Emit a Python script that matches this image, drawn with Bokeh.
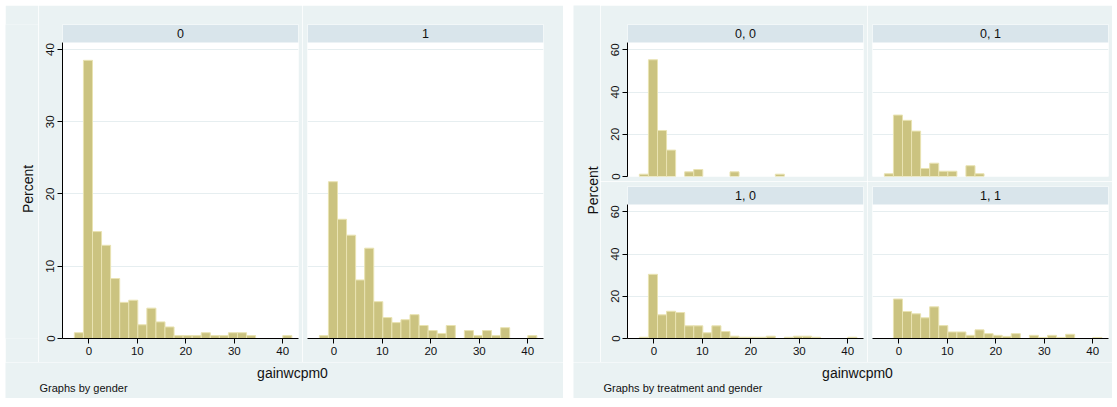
import math

from bokeh.embed import file_html
from bokeh.layouts import column, row
from bokeh.models import (BoxAnnotation, ColumnDataSource, FixedTicker, Label,
                          Range1d, Spacer)
from bokeh.plotting import figure
from bokeh.resources import INLINE

# Histogram bins shared by every panel (Stata-style common bins)
bin_start = -3.0
bin_width = 1.87

# Percent of observations in each bin
pct_gender_0 = [0.8, 38.5, 14.8, 12.9, 8.3, 5.0, 5.3, 1.9, 4.2, 2.3, 1.6, 0.4,
                0.4, 0.4, 0.8, 0.4, 0.4, 0.8, 0.8, 0.4, 0.0, 0.0, 0.0, 0.4]
pct_gender_1 = [0.4, 21.7, 16.5, 14.3, 8.1, 12.5, 5.1, 2.9, 2.2, 2.6, 3.3, 1.8,
                1.1, 0.7, 1.8, 0.0, 1.1, 0.4, 1.1, 0.4, 1.5, 0.0, 0.0, 0.4]
pct_t0_g0 = [1.1, 55.3, 21.8, 12.5, 0.0, 2.2, 3.3, 0.0, 0.0, 0.0, 2.2, 0.0,
             0.0, 0.0, 0.0, 1.1, 0.0, 0.0, 0.0, 0.0, 0.0, 0.0, 0.0, 0.0]
pct_t0_g1 = [1.3, 29.1, 26.6, 21.5, 3.8, 6.3, 2.5, 2.5, 0.0, 5.1, 1.3, 0.0,
             0.0, 0.0, 0.0, 0.0, 0.0, 0.0, 0.0, 0.0, 0.0, 0.0, 0.0, 0.0]
pct_t1_g0 = [0.6, 30.4, 11.2, 12.9, 12.3, 6.0, 6.0, 2.7, 6.0, 3.3, 1.1, 0.6,
             0.6, 0.6, 1.1, 0.0, 0.6, 1.1, 1.1, 0.6, 0.0, 0.0, 0.0, 0.6]
pct_t1_g1 = [0.0, 18.7, 12.8, 11.7, 9.8, 15.0, 6.1, 3.1, 3.1, 1.5, 4.1, 2.3,
             1.5, 1.0, 2.3, 0.0, 1.5, 0.5, 1.5, 0.5, 2.0, 0.0, 0.0, 0.5]

x_ticks = [0, 10, 20, 30, 40]
y_ticks_gender = [0, 10, 20, 30, 40]
y_ticks_treat = [0, 20, 40, 60]

x_title = "gainwcpm0"
y_title = "Percent"

# Styling
BG = "#EAF2F3"
STRIP = "#D9E5EB"
GRID = "#E6EEF0"
BAR = "#CBC380"
BAR_EDGE = "#E9E3B2"
FONT = "Liberation Sans"
X_MIN, X_MAX = -5.45, 43.25


def panel(title, pct, w, h, bl, br, bt, bb, plot_top, frame_top, yticks,
          show_y, show_x):
    p = figure(width=w, height=h, output_backend="svg", toolbar_location=None,
               x_range=Range1d(X_MIN, X_MAX), y_range=Range1d(0, frame_top),
               min_border_left=bl, min_border_right=br,
               min_border_top=bt, min_border_bottom=bb,
               background_fill_color="white", border_fill_color=BG,
               outline_line_color=None)
    left, right, top = [], [], []
    for i, v in enumerate(pct):
        if v > 0:
            lo = bin_start + i * bin_width
            left.append(lo)
            right.append(lo + bin_width)
            top.append(v)
    src = ColumnDataSource(dict(left=left, right=right, top=top,
                                bottom=[0] * len(top)))
    p.quad(left="left", right="right", top="top", bottom="bottom", source=src,
           fill_color=BAR, line_color=BAR_EDGE, line_width=1)

    # title strip above the plot region
    p.add_layout(BoxAnnotation(bottom=plot_top, fill_color=STRIP, fill_alpha=1,
                               line_color=None))
    p.add_layout(Label(x=(X_MIN + X_MAX) / 2, y=(plot_top + frame_top) / 2,
                       text=title, text_align="center", text_baseline="middle",
                       text_font=FONT, text_font_size="12.5px",
                       text_color="#111111"))

    p.xgrid.visible = False
    p.ygrid.ticker = FixedTicker(ticks=yticks)
    p.ygrid.grid_line_color = GRID
    p.ygrid.grid_line_width = 1

    for ax in p.yaxis:
        ax.ticker = FixedTicker(ticks=yticks)
        ax.bounds = (0, plot_top)
        ax.major_label_orientation = "vertical"
        ax.major_tick_out = 5
        ax.major_tick_in = 0
        ax.minor_tick_line_color = None
        ax.axis_line_color = "#000000"
        ax.major_tick_line_color = "#000000"
        ax.major_label_standoff = 3
        ax.major_label_text_font = FONT
        ax.major_label_text_font_size = "11.5px"
        ax.major_label_text_color = "#111111"
        ax.visible = show_y
    for ax in p.xaxis:
        ax.ticker = FixedTicker(ticks=x_ticks)
        ax.major_tick_out = 5
        ax.major_tick_in = 0
        ax.minor_tick_line_color = None
        ax.axis_line_color = "#000000"
        ax.major_tick_line_color = "#000000"
        ax.major_label_standoff = 3
        ax.major_label_text_font = FONT
        ax.major_label_text_font_size = "11.5px"
        ax.major_label_text_color = "#111111"
        ax.visible = show_x
    return p


def text_fig(w, h):
    p = figure(width=w, height=h, output_backend="svg", toolbar_location=None,
               x_range=Range1d(0, w), y_range=Range1d(0, h),
               x_axis_location=None, y_axis_location=None,
               min_border_left=0, min_border_right=0,
               min_border_top=0, min_border_bottom=0,
               background_fill_color=BG, border_fill_color=BG,
               outline_line_color=None)
    p.grid.visible = False
    return p


# ---- left graph: by gender ----
G_TOP = 40.97
G_FRAME = 43.46
f_g0 = panel("0", pct_gender_0, 264, 357, 24, 4, 19, 24, G_TOP, G_FRAME,
             y_ticks_gender, True, True)
f_g1 = panel("1", pct_gender_1, 261, 357, 5, 20, 19, 24, G_TOP, G_FRAME,
             y_ticks_gender, False, True)

lab_left = text_fig(33, 357)
lab_left.add_layout(Label(x=22.5, y=170, text=y_title, angle=math.pi / 2,
                          text_align="center", text_baseline="middle",
                          text_font=FONT, text_font_size="14px",
                          text_color="#111111"))
foot_left = text_fig(558, 36)
foot_left.add_layout(Label(x=287, y=26, text=x_title, text_align="center",
                           text_baseline="middle", text_font=FONT,
                           text_font_size="14px", text_color="#111111"))
foot_left.add_layout(Label(x=34, y=11, text="Graphs by gender",
                           text_align="left", text_baseline="middle",
                           text_font=FONT, text_font_size="11px",
                           text_color="#111111"))

left_graph = column(row(lab_left, f_g0, f_g1), foot_left)

# ---- right graph: by treatment and gender ----
T_TOP = 63.45
T_FRAME = 72.0
f_00 = panel("0, 0", pct_t0_g0, 267, 176, 27, 4, 19, 5, T_TOP, T_FRAME,
             y_ticks_treat, True, False)
f_01 = panel("0, 1", pct_t0_g1, 245, 176, 5, 4, 19, 5, T_TOP, T_FRAME,
             y_ticks_treat, False, False)
f_10 = panel("1, 0", pct_t1_g0, 267, 181, 27, 4, 5, 24, T_TOP, T_FRAME,
             y_ticks_treat, True, True)
f_11 = panel("1, 1", pct_t1_g1, 245, 181, 5, 4, 5, 24, T_TOP, T_FRAME,
             y_ticks_treat, False, True)

lab_right = text_fig(27, 357)
lab_right.add_layout(Label(x=19, y=172, text=y_title, angle=math.pi / 2,
                           text_align="center", text_baseline="middle",
                           text_font=FONT, text_font_size="14px",
                           text_color="#111111"))
foot_right = text_fig(539, 36)
foot_right.add_layout(Label(x=284, y=26, text=x_title, text_align="center",
                            text_baseline="middle", text_font=FONT,
                            text_font_size="14px", text_color="#111111"))
foot_right.add_layout(Label(x=30, y=11, text="Graphs by treatment and gender",
                            text_align="left", text_baseline="middle",
                            text_font=FONT, text_font_size="11px",
                            text_color="#111111"))

right_graph = column(row(lab_right, column(row(f_00, f_01), row(f_10, f_11))),
                     foot_right)

p = column(Spacer(width=1117, height=5),
           row(Spacer(width=5, height=393), left_graph,
               Spacer(width=10, height=393), right_graph))

open("out.html", "w").write(file_html(p, INLINE))
